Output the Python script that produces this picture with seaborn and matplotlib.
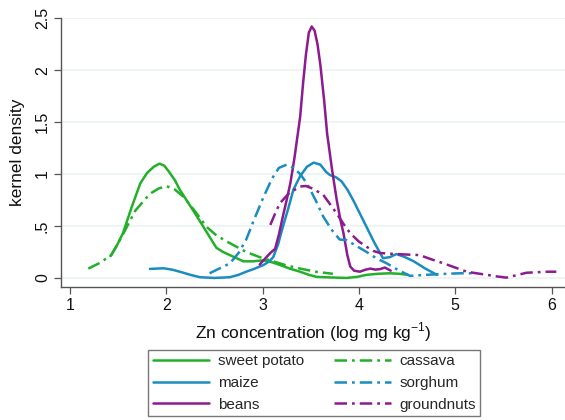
import matplotlib
matplotlib.use("Agg")
import matplotlib.pyplot as plt
import seaborn as sns
import pandas as pd

# Kernel density estimates of Zn concentration (log mg/kg) by crop
sweet_potato_x = [1.42, 1.48, 1.55, 1.64, 1.73, 1.80, 1.87, 1.93, 1.98, 2.03, 2.09, 2.14, 2.23, 2.32, 2.42,
                  2.52, 2.59, 2.66, 2.73, 2.80, 2.90, 3.01, 3.10, 3.18, 3.28, 3.39, 3.48, 3.56, 3.70, 3.87,
                  3.98, 4.08, 4.20, 4.32, 4.42, 4.51]
sweet_potato_y = [0.21, 0.30, 0.43, 0.68, 0.91, 1.01, 1.07, 1.10, 1.08, 1.02, 0.94, 0.85, 0.72, 0.59, 0.44,
                  0.29, 0.25, 0.22, 0.19, 0.16, 0.16, 0.17, 0.15, 0.125, 0.09, 0.06, 0.03, 0.01, 0.005, 0.0,
                  0.01, 0.03, 0.04, 0.045, 0.04, 0.03]

cassava_x = [1.19, 1.30, 1.43, 1.55, 1.68, 1.83, 1.92, 2.00, 2.09, 2.18, 2.30, 2.42, 2.52, 2.63, 2.73,
             2.83, 2.97, 3.11, 3.25, 3.39, 3.55, 3.73]
cassava_y = [0.09, 0.14, 0.22, 0.42, 0.65, 0.81, 0.86, 0.885, 0.85, 0.78, 0.64, 0.49, 0.41, 0.35, 0.30,
             0.25, 0.20, 0.16, 0.12, 0.09, 0.06, 0.04]

maize_x = [1.83, 1.97, 2.06, 2.14, 2.25, 2.35, 2.50, 2.66, 2.75, 2.83, 2.92, 3.01, 3.07, 3.11, 3.16,
           3.21, 3.27, 3.32, 3.39, 3.46, 3.53, 3.60, 3.66, 3.70, 3.76, 3.82, 3.88, 3.94, 4.01, 4.08,
           4.16, 4.25, 4.32, 4.39, 4.48, 4.57, 4.69, 4.81]
maize_y = [0.087, 0.093, 0.08, 0.06, 0.03, 0.007, 0.0, 0.007, 0.03, 0.06, 0.09, 0.125, 0.16, 0.20, 0.32,
           0.49, 0.68, 0.85, 0.98, 1.07, 1.11, 1.09, 1.02, 0.99, 0.97, 0.93, 0.85, 0.75, 0.62, 0.49,
           0.34, 0.19, 0.20, 0.23, 0.20, 0.16, 0.09, 0.03]

sorghum_x = [2.45, 2.55, 2.66, 2.75, 2.83, 2.92, 3.01, 3.10, 3.17, 3.25, 3.32, 3.39, 3.46, 3.55, 3.63,
             3.72, 3.80, 3.87, 3.97, 4.08, 4.18, 4.29, 4.40, 4.53, 4.70, 4.91, 5.05, 5.19]
sorghum_y = [0.045, 0.09, 0.14, 0.24, 0.37, 0.58, 0.78, 0.96, 1.06, 1.09, 1.06, 1.00, 0.91, 0.75, 0.59,
             0.46, 0.37, 0.365, 0.31, 0.25, 0.19, 0.14, 0.08, 0.02, 0.03, 0.04, 0.045, 0.045]

beans_x = [2.97, 3.03, 3.08, 3.13, 3.17, 3.21, 3.25, 3.29, 3.33, 3.36, 3.39, 3.42, 3.45, 3.48, 3.51,
           3.54, 3.57, 3.60, 3.64, 3.67, 3.72, 3.77, 3.81, 3.84, 3.88, 3.91, 3.95, 4.01, 4.07, 4.12,
           4.17, 4.22, 4.27, 4.33]
beans_y = [0.13, 0.19, 0.24, 0.28, 0.42, 0.59, 0.75, 0.92, 1.15, 1.35, 1.55, 1.87, 2.15, 2.36, 2.42,
           2.38, 2.25, 2.05, 1.70, 1.39, 1.05, 0.75, 0.55, 0.43, 0.22, 0.11, 0.07, 0.06, 0.08, 0.09,
           0.08, 0.085, 0.10, 0.07]

groundnuts_x = [3.08, 3.13, 3.18, 3.28, 3.39, 3.45, 3.52, 3.63, 3.70, 3.77, 3.84, 3.91, 4.00, 4.08, 4.15,
                4.22, 4.30, 4.39, 4.50, 4.63, 4.75, 4.88, 5.00, 5.12, 5.22, 5.33, 5.43, 5.53, 5.63, 5.74,
                5.85, 5.95, 6.05]
groundnuts_y = [0.51, 0.62, 0.72, 0.82, 0.88, 0.885, 0.86, 0.80, 0.71, 0.62, 0.52, 0.43, 0.35, 0.30, 0.26,
                0.24, 0.235, 0.23, 0.225, 0.22, 0.18, 0.14, 0.10, 0.06, 0.045, 0.03, 0.015, 0.003, 0.025, 0.05,
                0.055, 0.06, 0.06]

crops = ["sweet potato", "maize", "beans", "cassava", "sorghum", "groundnuts"]
series = {
    "sweet potato": (sweet_potato_x, sweet_potato_y),
    "maize": (maize_x, maize_y),
    "beans": (beans_x, beans_y),
    "cassava": (cassava_x, cassava_y),
    "sorghum": (sorghum_x, sorghum_y),
    "groundnuts": (groundnuts_x, groundnuts_y),
}

green, blue, purple = "#22b02a", "#1a8cc0", "#8c1a90"
dash_dot = (0, (5.0, 2.0, 1.1, 2.0))
styles = {
    "sweet potato": (green, "-"),
    "maize": (blue, "-"),
    "beans": (purple, "-"),
    "cassava": (green, dash_dot),
    "sorghum": (blue, dash_dot),
    "groundnuts": (purple, dash_dot),
}

sns.set_theme(style="white")
plt.rcParams["font.family"] = ["Liberation Sans", "DejaVu Sans"]

fig = plt.figure(figsize=(5.65, 4.2), dpi=100)
ax = fig.add_axes([0.108, 0.3167, 0.892, 0.640])

for crop in crops:
    xs, ys = series[crop]
    df = pd.DataFrame({"x": xs, "y": ys})
    color, ls = styles[crop]
    sns.lineplot(data=df, x="x", y="y", ax=ax, color=color, linestyle=ls,
                 linewidth=1.8, estimator=None, sort=False, label=crop, legend=False)

ax.set_xlim(0.907, 6.14)
ax.set_ylim(-0.087, 2.5)
ax.set_xticks([1, 2, 3, 4, 5, 6])
ax.set_xticklabels(["1", "2", "3", "4", "5", "6"])
ax.set_yticks([0, 0.5, 1, 1.5, 2, 2.5])
ax.set_yticklabels(["0", ".5", "1", "1.5", "2", "2.5"], rotation=90, va="center")

ax.yaxis.grid(True, color="#e9f1f3", linewidth=1.1)
ax.xaxis.grid(False)
ax.set_axisbelow(True)

for side in ["top", "right"]:
    ax.spines[side].set_visible(False)
for side in ["left", "bottom"]:
    ax.spines[side].set_color("#555555")
    ax.spines[side].set_linewidth(1.0)

ax.tick_params(axis="both", which="major", direction="out", length=5, width=0.9,
               color="#555555", labelsize=11.5, labelcolor="#111111", pad=3,
               bottom=True, left=True)

ax.set_xlabel("Zn concentration (log mg kg$^{\\mathregular{-1}}$)", fontsize=12.5, labelpad=5, color="#111111")
ax.set_ylabel("kernel density", fontsize=12.5, labelpad=7, color="#111111")

handles, labels = ax.get_lines(), crops
leg = fig.legend(handles, labels, loc="center", bbox_to_anchor=(0.556, 0.088), ncol=2,
                 fontsize=11, frameon=True, fancybox=False, edgecolor="#555555",
                 handlelength=3.7, handletextpad=0.55, columnspacing=2.0,
                 labelspacing=0.5, borderpad=0.3)
leg.get_frame().set_linewidth(1.0)

fig.savefig("out.png", dpi=100)
